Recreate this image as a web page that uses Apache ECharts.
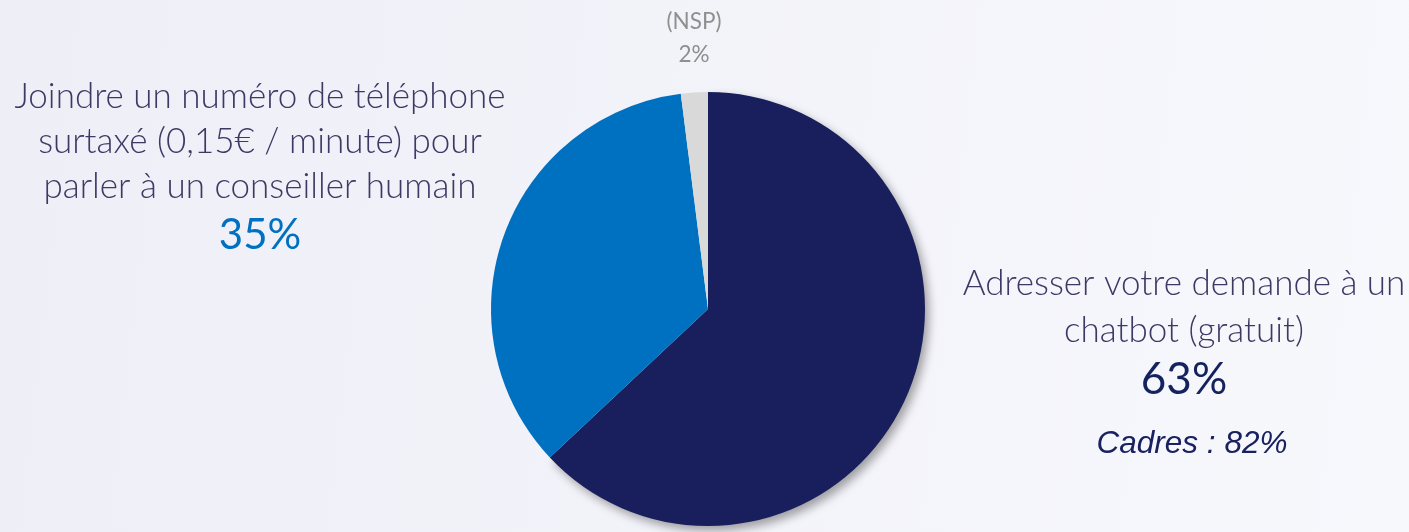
<!DOCTYPE html>
<html>
<head>
<meta charset="utf-8">
<script src="https://cdn.jsdelivr.net/npm/echarts@6/dist/echarts.min.js"></script>
<style>
  html, body { margin: 0; padding: 0; }
  #chart { width: 1409px; height: 532px; }
</style>
</head>
<body>
<div id="chart"></div>
<script>
// données
const categories = [
  'Adresser votre demande à un\nchatbot (gratuit)',
  'Joindre un numéro de téléphone\nsurtaxé (0,15€ / minute) pour\nparler à un conseiller humain',
  '(NSP)'
]
const values = [63, 35, 2]
const notes = ['Cadres : 82%', '', '']
const colors = ['#181f5c', '#0070c0', '#d9d9d9']

// position des étiquettes (x centre, y haut)
const labelPos = [
  { x: 1184, y: 260 },
  { x: 260, y: 74 },
  { x: 694, y: 5 }
]

const chart = echarts.init(document.getElementById('chart'))

const option = {
  backgroundColor: {
    type: 'linear', x: 0, y: 0, x2: 1, y2: 0.3,
    colorStops: [
      { offset: 0, color: '#eeeef7' },
      { offset: 1, color: '#f7f8fc' }
    ]
  },
  series: [
    {
      type: 'pie',
      center: [708, 309],
      radius: 217,
      startAngle: 90,
      clockwise: true,
      silent: true,
      label: {
        show: true,
        position: 'outside',
        overflow: 'none',
        fontFamily: 'Lato',
        formatter: (p) => {
          const i = p.dataIndex
          const name = categories[i].split('\n').map(s => '{n' + i + '|' + s + '}').join('\n')
          let txt = name + '\n{p' + i + '|' + values[i] + '%}'
          if (notes[i]) txt += '\n{c|' + notes[i] + '}'
          return txt
        },
        rich: {
          n0: { fontFamily: 'Lato', fontWeight: 300, fontSize: 35, color: '#3e3864', lineHeight: 47, align: 'center' },
          p0: { fontFamily: 'Lato', fontSize: 44, color: '#14225e', lineHeight: 52, align: 'center' },
          c: { fontFamily: 'Liberation Sans', fontStyle: 'italic', fontSize: 31.5, color: '#1a2160', lineHeight: 76, align: 'center', padding: [0, 0, 0, 16] },
          n1: { fontFamily: 'Lato', fontWeight: 300, fontSize: 35, color: '#3e3864', lineHeight: 45, align: 'center' },
          p1: { fontFamily: 'Lato', fontSize: 42, color: '#0070c0', lineHeight: 53, align: 'center' },
          n2: { fontFamily: 'Lato', fontSize: 22.5, color: '#8f8f8f', lineHeight: 33, align: 'center' },
          p2: { fontFamily: 'Lato', fontSize: 22.5, color: '#8f8f8f', lineHeight: 33, align: 'center' }
        }
      },
      labelLine: { show: false },
      labelLayout: (params) => ({
        x: labelPos[params.dataIndex].x,
        y: labelPos[params.dataIndex].y,
        align: 'center',
        verticalAlign: 'top'
      }),
      data: values.map((v, i) => ({
        value: v,
        name: categories[i],
        itemStyle: i === 0
          ? { color: colors[i], shadowColor: 'rgba(0,0,0,0.35)', shadowBlur: 10, shadowOffsetX: 4, shadowOffsetY: 5 }
          : { color: colors[i] }
      }))
    }
  ]
}

chart.setOption(option)
</script>
</body>
</html>
